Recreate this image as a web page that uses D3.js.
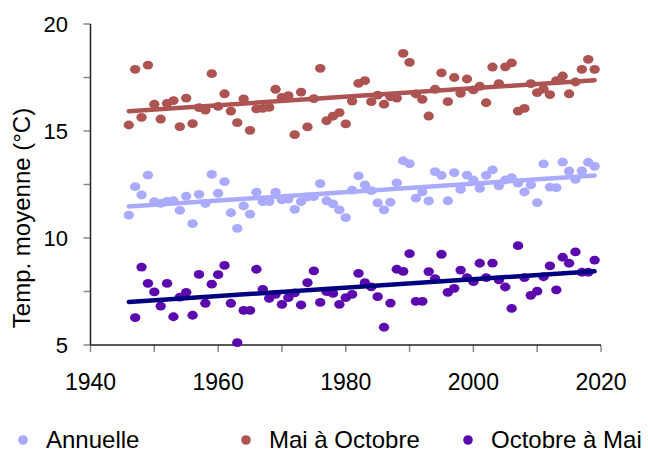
<!DOCTYPE html>
<html>
<head>
<meta charset="utf-8">
<script src="https://cdn.jsdelivr.net/npm/d3@7"></script>
<style>
  body { margin: 0; background: #fff; }
  text { font-family: Arial, "Liberation Sans", sans-serif; fill: #000; }
</style>
</head>
<body>
<div id="chart"></div>
<script>
// series values
var annuelleStart = 1946;
var annuelle = [
  11.07, 12.40, 12.01, 12.94, 11.70, 11.62, 11.71, 11.74, 11.29, 11.96,
  10.67, 12.04, 11.62, 12.97, 12.09, 12.63, 11.18, 10.45, 11.50, 11.12,
  12.14, 11.70, 11.70, 12.14, 11.78, 11.82, 11.34, 11.70, 11.92, 11.93,
  12.54, 11.74, 11.59, 11.31, 10.95, 12.24, 12.90, 12.48, 12.21, 11.64,
  11.31, 11.67, 12.58, 13.61, 13.47, 11.86, 12.16, 11.73, 13.10, 12.93,
  11.74, 13.05, 12.27, 12.94, 12.71, 12.32, 12.93, 13.18, 12.44, 12.71,
  12.82, 12.56, 12.15, 12.48, 11.65, 13.46, 12.38, 12.35, 13.55, 13.13,
  12.74, 13.14, 13.54, 13.35
];

var maiOctStart = 1946;
var maiOct = [
  15.28, 17.88, 15.64, 18.08, 16.25, 15.56, 16.29, 16.42, 15.20, 16.54,
  15.34, 16.09, 15.98, 17.68, 16.15, 16.74, 15.93, 15.39, 16.50, 15.03,
  16.03, 16.06, 16.10, 16.95, 16.57, 16.65, 14.83, 16.82, 15.19, 16.51,
  17.93, 15.48, 15.69, 15.86, 15.33, 16.40, 17.23, 17.35, 16.37, 16.68,
  16.25, 16.60, 16.54, 18.63, 18.21, 16.73, 16.48, 15.70, 16.95, 17.72,
  16.37, 17.50, 16.76, 17.43, 16.92, 17.09, 16.32, 17.99, 17.21, 18.00,
  18.18, 15.93, 16.06, 17.21, 16.79, 16.96, 16.70, 17.35, 17.57, 16.74,
  17.29, 17.88, 18.35, 17.88
];

var octMaiStart = 1947;
var octMai = [
  6.28, 8.64, 7.88, 7.48, 6.82, 7.88, 6.32, 7.24, 7.46, 6.39,
  8.30, 6.95, 7.84, 8.29, 8.72, 6.95, 5.11, 6.62, 6.62, 8.54,
  7.60, 7.18, 7.37, 6.90, 7.21, 7.44, 6.87, 7.91, 8.46, 6.99,
  7.49, 7.41, 6.90, 7.21, 7.37, 8.35, 7.91, 7.72, 7.26, 5.83,
  6.96, 8.54, 8.44, 9.27, 7.04, 7.04, 8.43, 8.10, 9.24, 7.46,
  7.65, 8.50, 8.15, 7.96, 8.82, 8.15, 8.83, 8.04, 7.71, 6.71,
  9.64, 8.15, 7.32, 7.52, 8.19, 8.70, 7.58, 9.10, 8.82, 9.35,
  8.40, 8.40, 8.97
];

var xTicks = [1940, 1950, 1960, 1970, 1980, 1990, 2000, 2010, 2020];
var xLabels = [1940, 1960, 1980, 2000, 2020];
var yTicks = [5, 7.5, 10, 12.5, 15, 17.5, 20];
var yLabels = [5, 10, 15, 20];
var legendNames = ['Annuelle', 'Mai à Octobre', 'Octobre à Mai'];

var series = [
  { name: legendNames[0], start: annuelleStart, values: annuelle, dot: '#aaaaff', line: '#aaaaff' },
  { name: legendNames[1], start: maiOctStart, values: maiOct, dot: '#ad5452', line: '#ad5452' },
  { name: legendNames[2], start: octMaiStart, values: octMai, dot: '#5b08ae', line: '#000080' }
];

var width = 648, height = 453;

var svg = d3.select('#chart').append('svg')
    .attr('width', width)
    .attr('height', height);

var x = d3.scaleLinear().domain([1940, 2020]).range([90.5, 601]);
var y = d3.scaleLinear().domain([5, 20]).range([345, 24]);

// axes
var gy = svg.append('g').attr('class', 'y-axis');
gy.selectAll('line.tick')
    .data(yTicks)
    .enter().append('line')
    .attr('class', 'tick')
    .attr('x1', x(1940) - 7)
    .attr('x2', x(1940))
    .attr('y1', function(d) { return y(d); })
    .attr('y2', function(d) { return y(d); })
    .attr('stroke', '#888')
    .attr('stroke-width', 1.5);
gy.selectAll('text')
    .data(yLabels)
    .enter().append('text')
    .attr('x', 68)
    .attr('y', function(d) { return y(d); })
    .attr('dy', '0.36em')
    .attr('text-anchor', 'end')
    .style('font-size', '22px')
    .text(function(d) { return d; });
gy.append('line')
    .attr('x1', x(1940)).attr('x2', x(1940))
    .attr('y1', y(20)).attr('y2', y(5))
    .attr('stroke', '#222')
    .attr('stroke-width', 1.5);

var gx = svg.append('g').attr('class', 'x-axis');
gx.selectAll('line.tick')
    .data(xTicks)
    .enter().append('line')
    .attr('class', 'tick')
    .attr('x1', function(d) { return x(d); })
    .attr('x2', function(d) { return x(d); })
    .attr('y1', y(5))
    .attr('y2', y(5) + 7)
    .attr('stroke', '#888')
    .attr('stroke-width', 1.5);
gx.selectAll('text')
    .data(xLabels)
    .enter().append('text')
    .attr('x', function(d) { return x(d); })
    .attr('y', 390)
    .attr('text-anchor', 'middle')
    .style('font-size', '23px')
    .text(function(d) { return d; });
gx.append('line')
    .attr('x1', x(1940)).attr('x2', x(2020))
    .attr('y1', y(5)).attr('y2', y(5))
    .attr('stroke', '#222')
    .attr('stroke-width', 1.5);

svg.append('text')
    .attr('transform', 'translate(30,218) rotate(-90)')
    .attr('text-anchor', 'middle')
    .style('font-size', '24px')
    .text('Temp. moyenne (°C)');

// points
series.forEach(function(s) {
  var pts = s.values.map(function(v, i) { return { year: s.start + i, value: v }; });
  s.points = pts;
  svg.append('g')
      .selectAll('ellipse')
      .data(pts)
      .enter().append('ellipse')
      .attr('cx', function(d) { return x(d.year); })
      .attr('cy', function(d) { return y(d.value); })
      .attr('rx', 5.2)
      .attr('ry', 4.4)
      .attr('fill', s.dot);
});

// linear trend lines (least squares on the points)
series.forEach(function(s) {
  var mx = d3.mean(s.points, function(d) { return d.year; });
  var my = d3.mean(s.points, function(d) { return d.value; });
  var num = d3.sum(s.points, function(d) { return (d.year - mx) * (d.value - my); });
  var den = d3.sum(s.points, function(d) { return (d.year - mx) * (d.year - mx); });
  var slope = num / den;
  var ends = [1946, 2019];
  var line = d3.line()
      .x(function(d) { return x(d); })
      .y(function(d) { return y(my + slope * (d - mx)); });
  svg.append('path')
      .datum(ends)
      .attr('d', line)
      .attr('fill', 'none')
      .attr('stroke', s.line)
      .attr('stroke-width', 4.5)
      .attr('stroke-linecap', 'round');
});

// legend
var legendX = [23, 246, 468];
var legend = svg.append('g').attr('class', 'legend');
series.forEach(function(s, i) {
  legend.append('circle')
      .attr('cx', legendX[i])
      .attr('cy', 440)
      .attr('r', 4.8)
      .attr('fill', s.dot);
  legend.append('text')
      .attr('x', legendX[i] + 23)
      .attr('y', 448)
      .style('font-size', '24px')
      .text(s.name);
});
</script>
</body>
</html>
